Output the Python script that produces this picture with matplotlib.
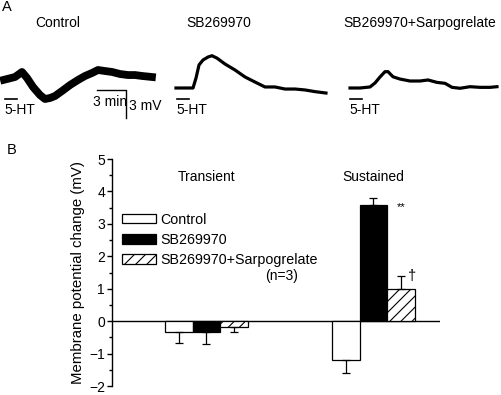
import matplotlib
matplotlib.use("Agg")
import matplotlib.pyplot as plt
from matplotlib.ticker import MultipleLocator
import numpy as np

plt.rcParams['font.family'] = ['Liberation Sans', 'DejaVu Sans']
plt.rcParams['hatch.linewidth'] = 0.8

W, H = 502, 395

# ---------------- Panel A data (time in min, membrane potential in mV) -------------
trace_titles = ["Control", "SB269970", "SB269970+Sarpogrelate"]
ctrl_t = [0, 1.14, 1.86, 2.38, 3.0, 3.72, 4.24, 4.76, 5.27, 6.0, 6.83, 7.65, 8.38,
          9.1, 9.72, 10.45, 11.17, 12.0, 12.82, 13.55, 14.27, 15.3]
ctrl_v = [-0.3, 0.0, 0.54, -0.1, -1.07, -1.93, -2.36, -2.25, -2.04, -1.5, -0.86, -0.32,
          0.11, 0.43, 0.75, 0.64, 0.54, 0.32, 0.21, 0.21, 0.11, 0.0]
sb_t = [0, 0.93, 1.76, 2.07, 2.38, 2.79, 3.31, 3.72, 4.24, 5.07, 6.1, 7.14, 8.17,
        9.2, 10.24, 11.27, 12.31, 13.34, 14.38, 15.51]
sb_v = [0, 0, 0, 1.07, 2.47, 3.0, 3.32, 3.46, 3.2, 2.57, 1.93, 1.18, 0.64,
        0.11, 0.11, -0.11, -0.11, -0.21, -0.39, -0.54]
sarp_t = [0, 1.03, 2.07, 2.59, 3.1, 3.62, 3.93, 4.45, 5.17, 6.2, 7.24, 8.07, 9.0,
          9.83, 10.55, 11.38, 12.41, 13.44, 14.48, 15.2]
sarp_v = [0, 0, 0.11, 0.54, 1.18, 1.75, 1.75, 1.2, 0.96, 0.75, 0.75, 0.86, 0.6,
          0.5, 0.07, -0.03, 0.14, 0.07, 0.07, 0.14]
ht_duration = 1.2  # min of 5-HT application
scale_min = 3
scale_mv = 3

# ---------------- Panel B data ----------------
groups = ["Transient", "Sustained"]
conditions = ["Control", "SB269970", "SB269970+Sarpogrelate"]
transient_mean = [-0.33, -0.34, -0.18]
transient_sem = [0.33, 0.35, 0.16]
sustained_mean = [-1.19, 3.57, 0.99]
sustained_sem = [0.40, 0.23, 0.41]

FS = 10

fig = plt.figure(figsize=(W / 100, H / 100), dpi=100)

def ftext(x, y, s, **kw):
    fig.text(x / W, 1 - y / H, s, **kw)

# ---------------- Panel A ----------------
PXMIN = 9.67
PXMV = 9.33
axA = fig.add_axes([0, 1 - 130 / H, 1, 130 / H])
axA.set_xlim(0, W / PXMIN)
axA.set_ylim(-42 / PXMV, 88 / PXMV)
axA.axis('off')

traces = [(ctrl_t, ctrl_v, 4, 77, 5.6), (sb_t, sb_v, 176, 88, 2.3), (sarp_t, sarp_v, 350, 88, 2.3)]
starts = [5, 177, 350]
for (t, v, x0, base, lw), hs in zip(traces, starts):
    t0 = x0 / PXMIN
    v0 = (88 - base) / PXMV
    axA.plot(np.array(t) + t0, np.array(v) + v0, color='k', lw=lw, solid_joinstyle='round')
    # 5-HT bar
    axA.plot([hs / PXMIN, hs / PXMIN + ht_duration], [-11 / PXMV] * 2, color='k', lw=1.2)

# scale bars
sx = 97 / PXMIN
sy = -2 / PXMV
axA.plot([sx, sx + scale_min, sx + scale_min], [sy, sy, sy - scale_mv], color='k', lw=1.0)

for title, cx in zip(trace_titles, [58, 219, 420]):
    ftext(cx, 23, title, ha='center', va='center', fontsize=FS)
for hs in starts:
    ftext(hs - 1, 110, "5-HT", ha='left', va='center', fontsize=FS)
ftext(110, 101.5, f"{scale_min} min", ha='center', va='center', fontsize=FS)
ftext(129, 106, f"{scale_mv} mV", ha='left', va='center', fontsize=FS)
ftext(2, 7, "A", ha='left', va='center', fontsize=10.5)
ftext(7, 150, "B", ha='left', va='center', fontsize=10.5)

# ---------------- Panel B ----------------
axB = fig.add_axes([112 / W, 9 / H, 328 / W, 227 / H])
axB.set_xlim(0, 11.93)
axB.set_ylim(-2, 5)
for s in ['top', 'right', 'bottom']:
    axB.spines[s].set_visible(False)
axB.spines['left'].set_linewidth(1.0)
axB.set_xticks([])
axB.yaxis.set_major_locator(MultipleLocator(1))
axB.yaxis.set_minor_locator(MultipleLocator(0.5))
axB.tick_params(axis='y', which='major', direction='out', length=3.5, width=1.0,
                labelsize=FS, pad=1.5)
axB.tick_params(axis='y', which='minor', direction='out', length=2, width=1.0)
axB.set_ylabel("Membrane potential change (mV)", fontsize=10.8, labelpad=3)
axB.axhline(0, color='k', lw=1.0, zorder=1)

group_start = [2.43, 8.51]
faces = ['white', 'black', 'white']
hatches = [None, None, '///']
means = [transient_mean, sustained_mean]
sems = [transient_sem, sustained_sem]
handles = []
for gi in range(2):
    for ci in range(3):
        xpos = group_start[gi] + ci
        m = means[gi][ci]
        e = sems[gi][ci]
        b = axB.bar(xpos, m, width=1.0, color=faces[ci], edgecolor='k', lw=0.9,
                    hatch=hatches[ci], zorder=2, label=conditions[ci] if gi == 0 else None)
        if gi == 0:
            handles.append(b)
        lo, hi = (e, 0) if m < 0 else (0, e)
        axB.errorbar(xpos, m, yerr=[[lo], [hi]], fmt='none', ecolor='k',
                     elinewidth=0.9, capsize=3, capthick=0.9, zorder=3)

for g, cx in zip(groups, [207, 373]):
    ftext(cx, 177, g, ha='center', va='center', fontsize=FS)

leg = axB.legend(handles=handles, labels=conditions, loc='upper left',
                 bbox_to_anchor=(122 / W, 1 - 213 / H), bbox_transform=fig.transFigure,
                 frameon=False, borderpad=0, handlelength=2.4, handleheight=0.6,
                 handletextpad=0.25, labelspacing=0.42, fontsize=10.3, borderaxespad=0)

ftext(282, 276, "(n=3)", ha='center', va='center', fontsize=FS)
ftext(397, 207, "**", ha='left', va='center', fontsize=8)
ftext(412, 276, "\u2020", ha='center', va='center', fontsize=10.5)

fig.savefig("out.png", dpi=100)
